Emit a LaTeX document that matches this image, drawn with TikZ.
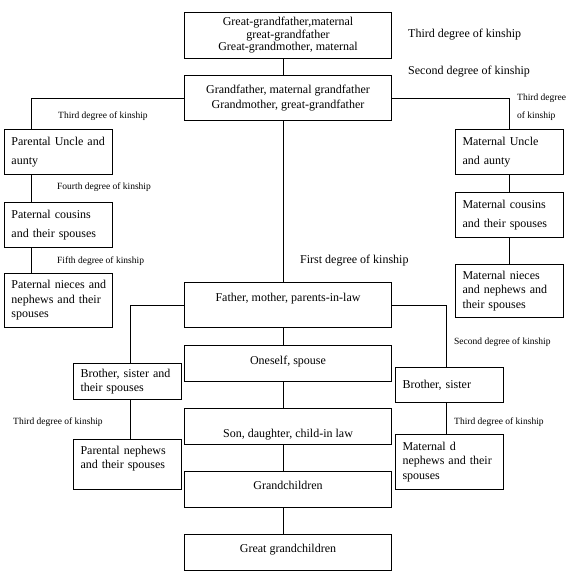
\documentclass[tikz,border=0pt]{standalone}
\usepackage{fontspec}
\setmainfont{Liberation Serif}
\usetikzlibrary{positioning, calc}

\begin{document}
\begin{tikzpicture}[
  x=1pt, y=-1pt,
  every node/.style={font=\fontsize{12}{14.5}\selectfont},
  % --- box styles ---
  mainbox/.style={
    draw, line width=1pt, anchor=north west, inner sep=0pt,
    minimum width=207pt, align=center,
  },
  sidebox/.style={
    draw, line width=1pt, anchor=north west,
    inner xsep=7pt, inner ysep=0pt, text width=94pt, align=left,
  },
  textup/.style={text height=0pt, text depth=#1},
  textdown/.style={text height=#1, text depth=0pt},
  conn/.style={line width=1pt},
  lbl/.style={font=\fontsize{9.5}{11}\selectfont, anchor=west, inner sep=0pt},
  biglbl/.style={anchor=west, inner sep=0pt},
]

% === Page frame ===
\path[use as bounding box, fill=white] (0,0) rectangle (572,579);

% === Column lines ===
\coordinate (spine) at (283,0);
\coordinate (lcol) at (31,0);
\coordinate (lmid) at (130,0);
\coordinate (rmid) at (446,0);
\coordinate (rcol) at (509,0);

% ---------- Centre column ----------
\node[mainbox, minimum height=46pt, font=\fontsize{12}{12.5}\selectfont]
  (ggp) at (184,12)
  {Great-grandfather,maternal\\great-grandfather\\Great-grandmother, maternal};
\node[mainbox, minimum height=45pt, font=\fontsize{12}{15.5}\selectfont]
  (gp) at (184,75)
  {Grandfather, maternal grandfather\\Grandmother, great-grandfather};
\node[mainbox, minimum height=45pt, textup=7pt] (par) at (184,282)
  {Father, mother, parents-in-law};
\node[mainbox, minimum height=36pt, textdown=2pt] (self) at (184,345)
  {Oneself, spouse};
\node[mainbox, minimum height=36pt, textdown=21pt] (child) at (184,408)
  {Son, daughter, child-in law};
\node[mainbox, minimum height=36pt, textdown=0pt] (gch) at (184,471)
  {Grandchildren};
\node[mainbox, minimum height=36pt, textup=1pt] (ggch) at (184,534)
  {Great grandchildren};

\draw[conn] (ggp.south -| spine) -- (gp.north -| spine);
\draw[conn] (gp.south -| spine) -- (par.north -| spine);
\draw[conn] (par.south -| spine) -- (self.north -| spine);
\draw[conn] (self.south -| spine) -- (child.north -| spine);
\draw[conn] (child.south -| spine) -- (gch.north -| spine);
\draw[conn] (gch.south -| spine) -- (ggch.north -| spine);

% ---------- Paternal side ----------
\node[sidebox, minimum height=45pt] (punc) at (4,129)
  {Parental Uncle and\\[4pt]aunty};
\node[sidebox, minimum height=45pt] (pcous) at (4,202)
  {Paternal cousins\\[4pt]and their spouses};
\node[sidebox, minimum height=54pt] (pniece) at (4,273)
  {\mbox{Paternal nieces and}\\nephews and their\\spouses};

\draw[conn] (gp.west) -| (punc.north -| lcol);
\draw[conn] (punc.south -| lcol) -- (pcous.north -| lcol);
\draw[conn] (pcous.south -| lcol) -- (pniece.north -| lcol);

% ---------- Maternal side ----------
\node[sidebox, minimum height=45pt] (munc) at (455,129)
  {Maternal Uncle\\[4pt]and aunty};
\node[sidebox, minimum height=45pt] (mcous) at (455,192)
  {Maternal cousins\\[4pt]and their spouses};
\node[sidebox, minimum height=53pt] (mniece) at (455,264)
  {Maternal nieces\\and nephews and\\their spouses};

\draw[conn] (gp.east) -| (munc.north -| rcol);
\draw[conn] (munc.south -| rcol) -- (mcous.north -| rcol);
\draw[conn] (mcous.south -| rcol) -- (mniece.north -| rcol);

% ---------- Siblings ----------
\node[sidebox, minimum height=36pt] (bsl) at (73,363)
  {Brother, sister and\\their spouses};
\node[sidebox, minimum height=50pt] (pneph) at (73,439)
  {Parental nephews\\and their spouses\\~};
\node[sidebox, minimum height=35pt] (bsr) at (395,367)
  {Brother, sister};
\node[sidebox, minimum height=55pt] (mneph) at (395,434)
  {Maternal d\\nephews and their\\spouses};

\draw[conn] (par.west) -| (bsl.north -| lmid);
\draw[conn] (bsl.south -| lmid) -- (pneph.north -| lmid);
\draw[conn] (par.east) -| (bsr.north -| rmid);
\draw[conn] (bsr.south -| rmid) -- (mneph.north -| rmid);

% ---------- Degree labels ----------
\node[biglbl] (deg3a) at (408,35) {Third degree of kinship};
\node[biglbl] (deg2a) at (408,72) {Second degree of kinship};
\node[lbl] (deg3b) at (58,116) {Third degree of kinship};
\node[lbl, align=left] (deg3c) at (517,107) {Third degree\\[7pt]of kinship};
\node[lbl] (deg4) at (57,187) {Fourth degree of kinship};
\node[lbl] (deg5) at (57,261) {Fifth degree of kinship};
\node[biglbl] (deg1) at (300,261) {First degree of kinship};
\node[lbl] (deg2b) at (454,342) {Second degree of kinship};
\node[lbl] (deg3d) at (13,422) {Third degree of kinship};
\node[lbl] (deg3e) at (454,422) {Third degree of kinship};

\end{tikzpicture}
\end{document}
